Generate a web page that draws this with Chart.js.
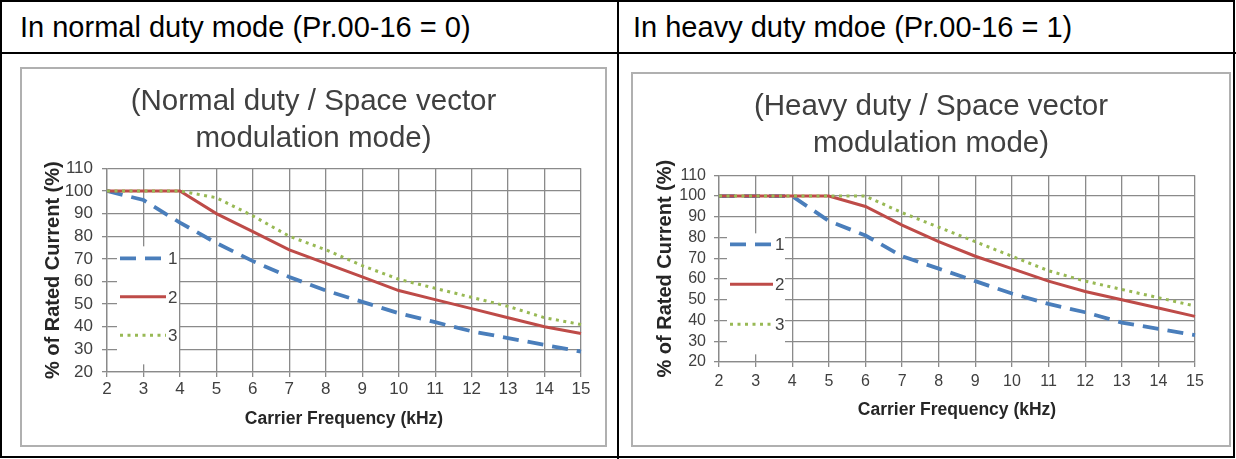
<!DOCTYPE html>
<html>
<head>
<meta charset="utf-8">
<script src="https://cdn.jsdelivr.net/npm/chart.js@4.4.1/dist/chart.umd.min.js"></script>
<style>
body { margin: 0; background: #fff; font-family: 'Liberation Sans', Arial, sans-serif; }
#page { position: relative; width: 1236px; height: 459px; overflow: hidden; }
.tbl { position: absolute; left: 0; top: 0; width: 1231px; height: 454px; border: 2px solid #000; }
.hline { position: absolute; left: 0; top: 52px; width: 1236px; height: 2px; background: #000; }
.vline { position: absolute; left: 617px; top: 0; width: 2px; height: 459px; background: #000; }
.head { position: absolute; top: 8px; height: 38px; line-height: 38px; font-size: 29px; color: #000; white-space: nowrap; }
.frame { position: absolute; border: 2px solid #b0b0b0; }
.frame canvas { display: block; }
</style>
</head>
<body>
<div id="page">
  <div class="tbl"></div>
  <div class="hline"></div>
  <div class="vline"></div>
  <div class="head" style="left:20px">In normal duty mode (Pr.00-16 = 0)</div>
  <div class="head" style="left:633px">In heavy duty mdoe (Pr.00-16 = 1)</div>
  <div class="frame" style="left:20px; top:67px;"><canvas id="normal" width="583" height="376"></canvas></div>
  <div class="frame" style="left:631px; top:72px;"><canvas id="heavy" width="596" height="371"></canvas></div>
</div>
<script>
// carrier frequency (kHz) on the x axis
const freqKHz = [2, 3, 4, 5, 6, 7, 8, 9, 10, 11, 12, 13, 14, 15];
const legendNames = ['1', '2', '3'];

// normal duty, % of rated current
const normal1 = [100, 96, 86, 77, 69, 62, 56, 51, 46, 42, 38, 35, 32, 29];
const normal2 = [100, 100, 100, 90, 82, 74, 68, 62, 56, 52, 48, 44, 40, 37];
const normal3 = [100, 100, 100, 97, 89, 80, 74, 67, 61, 57, 53, 49, 44, 41];

// heavy duty, % of rated current
const heavy1 = [100, 100, 100, 88, 81, 71, 65, 59, 53, 48, 44, 39, 36, 33];
const heavy2 = [100, 100, 100, 100, 95, 86, 78, 71, 65, 59, 54, 50, 46, 42];
const heavy3 = [100, 100, 100, 100, 100, 92, 85, 78, 71, 64, 59, 55, 51, 47];

const fontFamily = "'Liberation Sans', Arial, sans-serif";
const gridColour = '#8a8a8a';

// legend sits inside the plot on a white patch, like the excel original
const insetLegend = {
    id: 'insetLegend',
    afterDatasetsDraw(chart, args, opts) {
        const ctx = chart.ctx;
        const area = chart.chartArea;
        ctx.save();
        ctx.fillStyle = '#fff';
        ctx.fillRect(area.left + opts.boxLeft, area.top + opts.boxTop, opts.boxW, opts.boxH);
        legendNames.forEach((name, i) => {
            const ds = chart.data.datasets[i];
            const y = area.top + opts.top + i * opts.gap;
            const x0 = area.left + opts.lineLeft;
            ctx.beginPath();
            ctx.setLineDash(ds.borderDash || []);
            ctx.strokeStyle = ds.borderColor;
            ctx.lineWidth = ds.borderWidth;
            ctx.moveTo(x0, y);
            ctx.lineTo(x0 + opts.len, y);
            ctx.stroke();
            ctx.setLineDash([]);
            ctx.fillStyle = '#404040';
            ctx.font = opts.fontSize + 'px ' + fontFamily;
            ctx.textBaseline = 'middle';
            ctx.fillText(name, x0 + opts.len + 2, y + 1);
        });
        ctx.restore();
    }
};

function makeChart(id, curves, lay) {
    let ctx = document.getElementById(id).getContext('2d');
    return new Chart(ctx, {
        type: 'line',
        data: {
            labels: freqKHz,
            datasets: [{
                label: legendNames[0],
                data: curves[0],
                borderColor: '#4a7ebb',
                borderWidth: 3.8,
                borderDash: [16, 9],
                pointRadius: 0,
                order: 2
            }, {
                label: legendNames[1],
                data: curves[1],
                borderColor: '#be4b48',
                borderWidth: 3,
                pointRadius: 0,
                order: 1
            }, {
                label: legendNames[2],
                data: curves[2],
                borderColor: '#98b954',
                borderWidth: 3,
                borderDash: [3, 4.5],
                pointRadius: 0,
                order: 0
            }]
        },
        options: {
            responsive: false,
            animation: false,
            layout: { padding: 0 },
            plugins: {
                legend: { display: false },
                tooltip: { enabled: false },
                title: {
                    display: true,
                    text: lay.title,
                    color: '#404040',
                    font: { family: fontFamily, size: 29.5, weight: 'normal', lineHeight: 1.26 },
                    padding: { top: 14, bottom: lay.titleBottom }
                },
                insetLegend: lay.legend
            },
            scales: {
                x: {
                    afterFit: (scale) => { scale.height = lay.xh; },
                    grid: { color: gridColour, lineWidth: 1.3, tickLength: 5 },
                    border: { color: gridColour, width: 1.3 },
                    ticks: {
                        color: '#404040',
                        padding: lay.xpad,
                        maxRotation: 0,
                        autoSkip: false,
                        font: { family: fontFamily, size: lay.tick }
                    },
                    title: {
                        display: true,
                        text: 'Carrier Frequency (kHz)',
                        color: '#262626',
                        font: { family: fontFamily, size: 17.5, weight: 'bold' },
                        padding: { top: 0, bottom: lay.xtb }
                    }
                },
                y: {
                    min: 20,
                    max: 110,
                    afterFit: (scale) => { scale.width = lay.yw; },
                    grid: { color: gridColour, lineWidth: 1.3, tickLength: 5 },
                    border: { color: gridColour, width: 1.3 },
                    ticks: {
                        stepSize: 10,
                        autoSkip: false,
                        color: '#404040',
                        padding: lay.ypad,
                        font: { family: fontFamily, size: lay.tick }
                    },
                    title: {
                        display: true,
                        text: '% of Rated Current (%)',
                        color: '#262626',
                        font: { family: fontFamily, size: 20, weight: 'bold' },
                        padding: { top: lay.ytp, bottom: 0 }
                    }
                },
                // empty right-hand axis, only keeps the blank strip right of the plot
                spacer: {
                    type: 'linear',
                    position: 'right',
                    afterFit: (scale) => { scale.width = lay.right; },
                    grid: { display: false, drawTicks: false },
                    border: { display: false },
                    ticks: { display: false }
                }
            }
        },
        plugins: [insetLegend]
    });
}

makeChart('normal', [normal1, normal2, normal3], {
    title: ['(Normal duty / Space vector', 'modulation mode)'],
    titleBottom: 11,
    right: 24,
    yw: 85,
    xh: 73,
    xpad: 2,
    xtb: 15,
    ypad: 9,
    ytp: 19,
    tick: 17,
    legend: { boxLeft: 10, boxTop: 78, boxW: 62, boxH: 118, lineLeft: 13, len: 46, top: 90, gap: 38.5, fontSize: 17 }
});

makeChart('heavy', [heavy1, heavy2, heavy3], {
    title: ['(Heavy duty / Space vector', 'modulation mode)'],
    titleBottom: 13,
    right: 34,
    yw: 86,
    xh: 83,
    xpad: 5,
    xtb: 24,
    ypad: 8,
    ytp: 20,
    tick: 16,
    legend: { boxLeft: 8, boxTop: 58, boxW: 58, boxH: 121, lineLeft: 11, len: 43, top: 69, gap: 40, fontSize: 17 }
});
</script>
</body>
</html>
